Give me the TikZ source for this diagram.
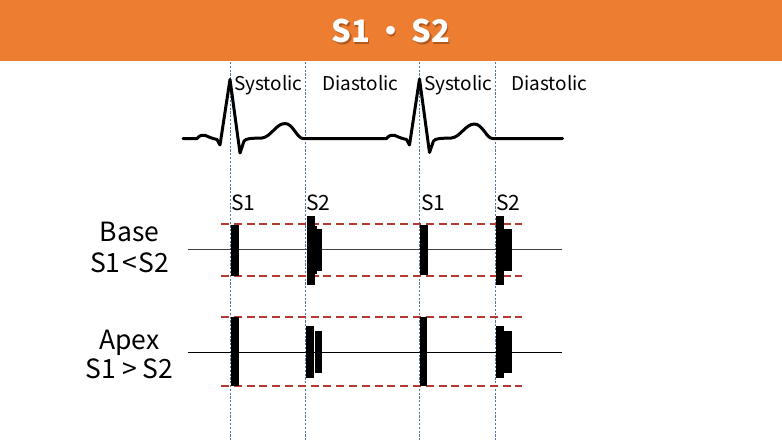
\documentclass[tikz,border=0pt]{standalone}
\usepackage{fontspec}
\setmainfont{Noto Sans CJK JP}
\definecolor{hdr}{RGB}{237,125,49}
\definecolor{hdrshadow}{RGB}{140,62,18}
\definecolor{reddash}{RGB}{178,58,50}
\definecolor{bluedash}{RGB}{80,120,160}
\tikzset{
  lbl/.style={inner sep=0pt,anchor=base west,font=\fontsize{19}{19}\selectfont},
  snd/.style={inner sep=0pt,anchor=base west,font=\fontsize{21}{21}\selectfont},
  side/.style={inner sep=0pt,anchor=base,font=\fontsize{26.5}{26.5}\selectfont},
  vline/.style={bluedash,line width=0.7pt,dash pattern=on 2.2pt off 1.6pt},
  rline/.style={reddash,line width=2pt,dash pattern=on 8pt off 4.8pt},
  axis/.style={line width=1.1pt},
  bar/.style={fill=black}
}
\begin{document}
\begin{tikzpicture}[x=1pt,y=-1pt]
\useasboundingbox (0,0) rectangle (782,440);
\fill[white] (0,0) rectangle (782,440);
% header
\fill[hdr] (0,0) rectangle (782,61);
\node[inner sep=0pt,text=hdrshadow,opacity=0.6,font=\fontsize{31}{31}\selectfont\bfseries] (titlesh) at (392.5,32.5) {S1\,・\,S2};
\node[inner sep=0pt,text=white,font=\fontsize{31}{31}\selectfont\bfseries] (title) at (391,31) {S1\,・\,S2};
% vertical guides
\foreach \x in {230,305.5,419.5,495.5}
  \draw[vline] (\x,62) -- (\x,440);
% ECG
\draw[line width=3pt,line join=round,line cap=round]
  (183,138.5) -- (197,138.5)
  .. controls (200,135) and (202,135) .. (205,135.3)
  .. controls (208,135.6) and (210,138.5) .. (213,138.5)
  -- (217,139.5) -- (220,145) -- (230,79.5) -- (240,153) -- (244,141)
  .. controls (246,138.5) and (250,138.3) .. (262,138)
  .. controls (271,137) and (276,123.5) .. (285,123.5)
  .. controls (293,123.5) and (297,138.5) .. (303,138.5)
  -- (386.5,138.5)
  .. controls (389.5,135) and (391.5,135) .. (394.5,135.3)
  .. controls (397.5,135.6) and (399.5,138.5) .. (402.5,138.5)
  -- (406.5,139.5) -- (409.5,145) -- (419.5,79) -- (429.5,152.5) -- (433.5,141)
  .. controls (435.5,138.5) and (439.5,138.3) .. (451.5,138)
  .. controls (460.5,137) and (465.5,124) .. (474.5,124)
  .. controls (482.5,124) and (486.5,138.5) .. (492.5,138.5)
  -- (562.5,138.5);
% phase labels
\node[lbl] (sys1) at (234,90) {Systolic};
\node[lbl] (dia1) at (322,90) {Diastolic};
\node[lbl] (sys2) at (424,90) {Systolic};
\node[lbl] (dia2) at (511,90) {Diastolic};
% sound labels
\node[snd] (s1a) at (231,210) {S1};
\node[snd] (s2a) at (306,210) {S2};
\node[snd] (s1b) at (421,210) {S1};
\node[snd] (s2b) at (496,210) {S2};
% side labels
\node[side] (base) at (129.5,241.5) {Base};
\node[side] (baserel) at (129.5,272.5) {S1\kern1.5pt<\kern1.5pt S2};
\node[side] (apex) at (129.5,349) {Apex};
\node[side] (apexrel) at (129.5,378) {S1\kern6pt>\kern6pt S2};
% axes
\draw[axis,black!75] (188,249.5) -- (562,249.5);
\draw[axis] (188,352.5) -- (562,352.5);
% red dashed limits
\draw[rline] (221,224) -- (522,224);
\draw[rline] (221,276) -- (522,276);
\draw[rline] (221,317) -- (522,317);
\draw[rline] (221,386) -- (522,386);
% Base bars
\fill[bar] (231,225) rectangle (238.5,275.5);
\fill[bar] (306.5,215.5) rectangle (314.5,284.5);
\fill[bar] (314,226) rectangle (316.5,273.5);
\fill[bar] (314,229) rectangle (322.3,270.5);
\fill[bar] (420,224.5) rectangle (428,275);
\fill[bar] (496,215.5) rectangle (504.3,284.5);
\fill[bar] (504,229) rectangle (511.7,270.5);
% Apex bars
\fill[bar] (231,317) rectangle (239,386);
\fill[bar] (306,326) rectangle (314,377.5);
\fill[bar] (315,330.7) rectangle (322,372.5);
\fill[bar] (419.5,316.7) rectangle (427.3,386);
\fill[bar] (496,326) rectangle (504,378.3);
\fill[bar] (504,331) rectangle (511.7,373.3);
\end{tikzpicture}
\end{document}
